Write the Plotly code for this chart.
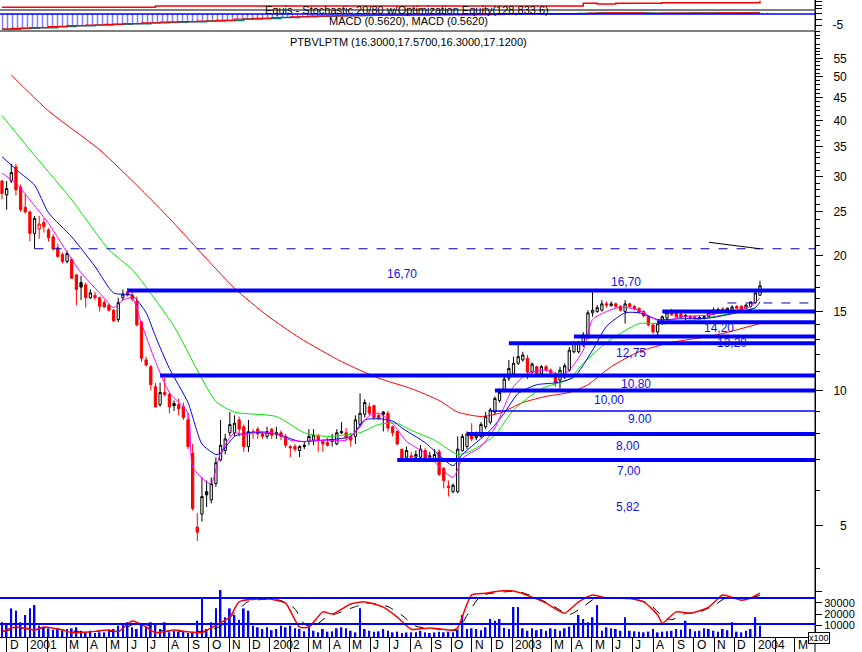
import pandas as pd
import numpy as np
import plotly.graph_objects as go

# ---------------- DATA ----------------
N_WEEKS = 164
FIRST_WEEK = "2000-11-24"

opens = [29.3, 27.3, 29.3, 31.5, 28.4, 25.6, 25.0, 22.4, 22.9, 23.7, 22.8, 22.0, 20.8, 20.1, 19.4, 19.6, 18.1, 17.4, 17.2, 16.1,
         16.3, 16.1, 15.7, 15.5, 15.1, 14.4, 16.1, 16.6, 16.3, 15.8, 14.2, 11.7, 11.3, 10.2, 9.3, 9.9, 9.8, 9.35, 9.3, 9.2,
         8.6, 7.25, 4.96, 5.3, 5.95, 5.7, 6.2, 7.0, 7.35, 8.05, 8.05, 8.6, 8.3, 7.5, 8.1, 8.2, 8.0, 7.9, 8.2, 8.05,
         8.05, 7.9, 7.5, 7.5, 7.35, 7.55, 7.7, 7.75, 7.9, 7.7, 7.65, 7.75, 7.6, 8.1, 8.05, 7.9, 7.9, 8.4, 8.85, 9.2,
         9.25, 8.8, 8.95, 8.9, 8.3, 8.1, 7.4, 7.1, 7.15, 7.1, 7.1, 7.35, 7.15, 7.05, 7.3, 6.7, 6.12, 5.95, 5.95, 7.35,
         7.5, 8.05, 7.85, 7.9, 8.3, 8.5, 8.95, 9.5, 10.0, 10.65, 10.9, 11.5, 11.7, 11.8, 11.0, 11.3, 10.9, 11.3, 11.1, 10.9,
         10.55, 10.7, 11.1, 12.2, 12.2, 12.65, 13.15, 14.9, 15.0, 15.1, 15.6, 15.45, 15.6, 15.4, 15.0, 15.6, 15.4, 15.25, 15.0, 14.6,
         14.0, 13.5, 14.1, 14.5, 14.95, 14.85, 14.8, 14.7, 14.65, 14.6, 14.45, 14.5, 14.6, 14.8, 15.0, 15.2, 15.0, 15.1, 15.4, 15.4,
         15.25, 15.4, 15.7, 16.3]
highs = [29.5, 29.3, 32.0, 32.0, 28.8, 27.5, 25.2, 24.5, 24.5, 24.2, 23.0, 22.3, 21.2, 20.3, 20.5, 19.8, 18.2, 18.0, 17.4, 16.8,
         16.6, 16.2, 15.9, 15.6, 15.2, 16.1, 16.8, 16.9, 16.8, 16.2, 14.3, 11.9, 11.4, 10.4, 10.4, 10.7, 9.9, 9.5, 9.6, 9.4,
         8.9, 7.6, 5.33, 6.4, 6.3, 6.4, 7.1, 8.6, 8.0, 8.95, 8.8, 8.75, 8.4, 8.6, 8.2, 8.3, 8.1, 8.3, 8.25, 8.3,
         8.15, 8.0, 7.55, 7.6, 7.55, 7.7, 8.2, 8.2, 8.0, 7.7, 7.85, 8.0, 8.2, 8.5, 8.25, 8.05, 8.8, 9.85, 9.55, 9.4,
         9.3, 8.9, 9.0, 9.0, 8.35, 8.15, 7.4, 7.5, 7.3, 7.35, 7.55, 7.45, 7.3, 7.4, 7.4, 6.75, 6.3, 6.2, 7.9, 8.0,
         8.1, 8.45, 8.1, 8.5, 8.95, 9.15, 9.7, 10.1, 10.8, 11.7, 11.9, 12.8, 12.2, 12.0, 11.55, 11.35, 11.4, 11.4, 11.2, 11.0,
         11.3, 11.5, 12.5, 12.9, 12.9, 13.5, 15.1, 16.6, 15.5, 15.9, 15.8, 15.8, 15.7, 15.5, 15.9, 15.7, 15.5, 15.3, 15.1, 14.7,
         14.1, 14.3, 14.7, 15.0, 15.2, 15.0, 14.9, 14.8, 14.7, 14.7, 14.7, 14.7, 15.0, 15.3, 15.3, 15.35, 15.3, 15.5, 15.5, 15.5,
         15.6, 15.8, 16.7, 17.57]
lows = [26.7, 25.3, 29.0, 27.2, 25.0, 24.8, 21.5, 20.7, 21.8, 22.5, 21.5, 20.5, 19.8, 19.2, 19.2, 17.7, 15.5, 15.9, 15.3, 16.0,
        15.9, 15.0, 15.3, 15.0, 14.2, 14.2, 15.9, 16.2, 15.8, 13.9, 11.6, 11.3, 10.0, 9.15, 9.2, 9.7, 8.9, 9.0, 8.8, 8.6,
        7.4, 5.4, 4.62, 5.1, 5.5, 5.6, 6.1, 6.95, 7.2, 7.9, 7.9, 7.9, 7.3, 7.3, 7.8, 7.8, 7.8, 7.8, 7.8, 7.8,
        7.75, 7.45, 7.1, 7.3, 7.1, 7.4, 7.55, 7.55, 7.3, 7.3, 7.5, 7.5, 7.55, 8.0, 7.75, 7.5, 7.6, 8.3, 8.7, 8.8,
        8.6, 8.6, 8.1, 8.1, 7.9, 7.55, 7.0, 7.0, 7.0, 7.05, 7.05, 7.0, 6.95, 6.95, 6.45, 6.05, 5.8, 5.9, 5.9, 7.3,
        7.4, 7.7, 7.75, 7.85, 8.2, 8.4, 8.85, 9.4, 9.9, 10.5, 10.8, 11.4, 11.6, 10.6, 10.9, 10.8, 10.8, 11.0, 10.85, 10.2,
        10.1, 10.6, 11.0, 12.1, 12.1, 12.5, 13.0, 14.6, 14.9, 15.0, 15.3, 15.4, 15.3, 15.0, 14.1, 15.3, 15.1, 14.9, 14.6, 13.9,
        13.4, 13.2, 14.0, 14.4, 14.7, 14.5, 14.5, 14.3, 14.4, 14.4, 14.4, 14.4, 14.5, 14.7, 14.9, 14.9, 14.9, 15.0, 15.2, 15.1,
        15.2, 15.3, 15.6, 16.3]
closes = [27.5, 28.2, 30.6, 28.0, 25.3, 25.0, 22.4, 24.2, 23.5, 23.2, 21.9, 20.7, 19.9, 19.4, 20.2, 17.8, 16.8, 17.0, 16.1, 16.5,
          16.1, 15.4, 15.35, 15.1, 14.3, 15.7, 16.4, 16.3, 16.0, 14.0, 11.8, 11.4, 10.3, 9.2, 9.9, 9.8, 9.2, 9.25, 9.1, 8.7,
          7.5, 5.46, 4.83, 5.8, 5.85, 6.2, 6.9, 7.55, 7.8, 8.4, 8.45, 8.2, 7.5, 8.1, 8.05, 8.0, 7.9, 8.1, 7.95, 8.0,
          7.9, 7.55, 7.45, 7.4, 7.5, 7.5, 7.9, 7.95, 7.75, 7.6, 7.55, 7.7, 8.05, 8.05, 7.85, 7.75, 8.6, 8.9, 9.4, 8.9,
          8.7, 8.65, 8.85, 8.25, 8.05, 7.6, 7.05, 7.35, 7.1, 7.2, 7.4, 7.05, 7.1, 7.2, 6.5, 6.3, 6.08, 6.15, 7.4, 7.9,
          8.0, 7.8, 7.95, 8.4, 8.75, 9.05, 9.6, 9.9, 10.6, 11.2, 11.5, 11.9, 12.0, 11.0, 11.45, 10.9, 11.3, 11.1, 10.95, 10.4,
          11.1, 11.35, 12.3, 12.75, 12.8, 13.3, 14.9, 15.1, 15.3, 15.6, 15.5, 15.6, 15.4, 15.1, 15.6, 15.4, 15.2, 14.95, 14.65, 14.0,
          13.5, 14.1, 14.6, 14.9, 14.75, 14.6, 14.55, 14.65, 14.5, 14.45, 14.55, 14.6, 14.9, 15.1, 15.15, 15.05, 15.25, 15.35, 15.25, 15.2,
          15.5, 15.75, 16.5, 17.12]
volumes = [12900, 11400, 25100, 23100, 12900, 19300, 25100, 28000, 9900, 8500, 7600, 6400, 7000, 5500, 7000, 7600, 8500, 5500, 4100, 5500,
           3500, 4100, 4100, 6400, 7000, 9900, 11400, 12900, 8500, 7000, 11400, 8500, 12900, 11400, 7000, 12900, 4100, 5500, 4700, 4500,
           3500, 4100, 14300, 33300, 7000, 12900, 25100, 42000, 17300, 25100, 19300, 15000, 25100, 23100, 9900, 8500, 7000, 8500, 6000, 7000,
           9900, 8500, 9900, 7600, 7000, 5000, 9900, 5500, 4100, 7000, 4700, 5000, 7600, 8500, 7600, 5500, 4100, 25100, 7000, 5500,
           4700, 5000, 7000, 5500, 4100, 4700, 3500, 4000, 4100, 4100, 5500, 4100, 3500, 4000, 4700, 4100, 4700, 4100, 6000, 19300,
           7000, 7600, 7000, 6000, 8500, 15800, 14300, 15800, 8000, 7000, 26300, 26300, 7600, 5500, 7600, 6000, 7000, 5500, 7600, 7000,
           5500, 7600, 9000, 11400, 19300, 15800, 12900, 17300, 28000, 5500, 8500, 7600, 7000, 5500, 17300, 5500, 5000, 4700, 4100, 4700,
           7000, 4100, 4700, 5000, 5500, 7000, 6400, 14300, 7000, 5000, 5500, 7600, 7000, 5500, 4700, 7000, 6000, 12900, 4700, 4100,
           5500, 7000, 17300, 9900]

# moving averages (week index -> value)
ma_red_idx = [2, 10, 21, 30, 36, 42, 50, 57, 64, 73, 81, 88, 94, 98, 103, 107, 112, 117, 122, 126, 131, 137, 144, 150, 155, 163]
ma_red_val = [50.5, 42.0, 34.4, 28.0, 24.2, 20.7, 16.9, 14.7, 13.1, 11.6, 10.65, 10.1, 9.5, 8.95, 8.75, 8.9, 9.4, 9.7, 9.9, 10.3,
              11.3, 12.2, 12.8, 13.1, 13.4, 14.1]
ma_green_idx = [0, 6, 15, 23, 28, 31, 37, 42, 46, 50, 59, 65, 70, 77, 81, 85, 88, 93, 98, 101, 106, 110, 116, 122, 125, 130,
                134, 137, 143, 149, 162]
ma_green_val = [41.0, 34.4, 26.6, 20.6, 18.6, 17.0, 13.9, 11.1, 9.45, 8.95, 8.75, 8.05, 7.9, 8.05, 8.4, 8.45, 8.15, 7.75, 7.2,
                7.35, 7.95, 9.05, 10.1, 10.6, 11.5, 12.8, 13.6, 14.1, 14.1, 14.35, 15.25]
ma_blue_idx = [0, 4, 7, 10, 15, 20, 24, 28, 31, 33, 36, 40, 43, 46, 47, 50, 53, 59, 64, 69, 75, 78, 81, 84, 86, 91, 97, 99,
               105, 108, 111, 115, 119, 123, 127, 130, 134, 137, 141, 146, 152, 162, 163]
ma_blue_val = [33.2, 30.5, 28.7, 24.9, 22.0, 18.9, 16.5, 16.3, 14.9, 13.2, 11.2, 9.4, 7.6, 7.2, 7.25, 7.9, 8.05, 8.0, 7.7, 7.75,
               7.9, 8.6, 8.65, 8.55, 8.25, 7.65, 6.8, 7.2, 8.15, 8.9, 9.85, 10.3, 10.4, 10.7, 12.3, 13.9, 14.9, 14.9, 14.4, 14.45,
               14.5, 15.3, 15.75]
ma_mag_idx = [0, 2, 3, 6, 10, 13, 17, 21, 24, 26, 28, 30, 33, 36, 40, 41, 44, 45, 47, 50, 52, 55, 59, 62, 65, 69, 74, 77, 79,
              81, 84, 87, 91, 97, 99, 103, 106, 108, 110, 113, 117, 120, 122, 125, 127, 130, 133, 137, 140, 142, 146, 151, 159,
              161, 163]
ma_mag_val = [30.5, 29.5, 29.0, 26.6, 23.6, 21.1, 18.3, 16.5, 15.3, 15.9, 16.1, 14.1, 11.6, 9.9, 8.9, 6.75, 6.25, 6.2, 7.25,
              8.05, 7.95, 8.1, 8.0, 7.75, 7.7, 7.75, 7.75, 8.3, 8.8, 8.9, 8.45, 7.7, 7.25, 6.4, 7.05, 7.5, 8.25, 9.2, 10.2, 10.9,
              11.1, 10.8, 11.1, 12.3, 14.4, 15.0, 15.35, 15.1, 14.5, 14.2, 14.6, 14.7, 15.15, 15.4, 16.1]

# stochastic 20/80 (%K red, %D dashed)
stoch_k_idx = [0, 3, 7, 9, 13, 15, 19, 23, 25, 28, 31, 33, 37, 40, 43, 45, 49, 51, 56, 59, 61, 64, 66, 69, 71, 75, 78, 82, 85,
               88, 92, 97, 98, 101, 104, 107, 110, 114, 117, 121, 124, 127, 130, 134, 138, 141, 142, 145, 148, 152, 155, 159,
               161, 163]
stoch_k_val = [2, 13, 6, 13, 6, 0, 2, 6, 2, 27, 13, 0, 6, 2, 0, 11, 36, 71, 78, 75, 68, 13, 13, 48, 43, 66, 71, 59, 36, 8,
               11, 6, 11, 87, 91, 96, 96, 82, 68, 45, 71, 87, 80, 80, 71, 41, 22, 48, 45, 59, 87, 75, 80, 91]
stoch_d_idx = [0, 4, 8, 10, 14, 17, 21, 25, 29, 32, 35, 40, 44, 47, 50, 53, 57, 60, 63, 65, 67, 70, 72, 76, 79, 83, 86, 89,
               93, 98, 100, 103, 108, 111, 115, 118, 122, 125, 128, 131, 135, 139, 142, 144, 147, 150, 153, 156, 160, 163]
stoch_d_val = [3, 10, 10, 12, 5, 2, 3, 4, 22, 15, 3, 3, 4, 15, 45, 72, 77, 74, 55, 20, 14, 38, 44, 60, 68, 60, 40, 15, 9, 6,
               40, 85, 94, 95, 80, 65, 42, 60, 82, 79, 78, 68, 38, 30, 44, 48, 62, 82, 78, 86]
stoch_levels = [80, 20]

# MACD strip (sampled every 4 weeks)
macd_idx = [0, 4, 8, 12, 16, 20, 24, 28, 32, 36, 40, 44, 48, 52, 56, 60, 64, 68, 72, 76, 80, 84, 88, 92, 96, 100, 104, 108,
            112, 116, 120, 124, 128, 132, 136, 140, 144, 148, 152, 156, 160, 163]
macd_val = [-6.9, -6.5, -6.2, -5.7, -5.3, -5.0, -4.7, -4.4, -4.0, -3.7, -3.5, -3.2, -2.9, -2.3, -2.0, -1.6, -1.25, -1.0, -0.85,
            -0.7, -0.6, -0.55, -0.45, -0.4, -0.35, -0.3, -0.2, -0.1, 0.1, 0.15, 0.1, 0.2, 0.4, 0.5, 0.5, 0.3, 0.35, 0.4, 0.45,
            0.5, 0.55, 0.56]

# optimization equity (step line)
equity_idx = [0, 33, 125, 128, 132, 142, 163]
equity_val = [104830, 109560, 119390, 116840, 119390, 121570, 128833.6]

# horizontal support / resistance lines
support_levels = [16.70, 15.00, 14.20, 13.20, 12.75, 10.80, 10.00, 9.00, 8.00, 7.00]
support_start = [27, 142, 141, 123, 109, 34, 106, 105, 100, 85]
dashed_levels = [20.7, 15.67]
dashed_start = [7, 156]
trend_idx = [152, 163]
trend_val = [21.4, 20.7]

level_labels = ["16,70", "16,70", "14,20", "13,20", "12,75", "10,80", "10,00", "9.00", "8,00", "7,00", "5,82"]
level_label_vals = [16.70, 16.70, 14.20, 13.20, 12.75, 10.80, 10.00, 9.00, 8.00, 7.00, 5.82]

price_ticks = [5, 10, 15, 20, 25, 30, 35, 40, 45, 50, 55]
volume_ticks = [10000, 20000, 30000, 40000]
volume_tick_text = ["10000", "20000", "30000", ""]

month_ticks = pd.date_range("2000-12-01", "2004-03-01", freq="MS")
month_label_dates = ["2000-12-01", "2001-01-01", "2001-03-01", "2001-04-01", "2001-05-01", "2001-06-01", "2001-07-01",
                     "2001-08-01", "2001-09-01", "2001-10-01", "2001-11-01", "2001-12-01", "2002-01-01", "2002-03-01",
                     "2002-04-01", "2002-05-01", "2002-06-01", "2002-07-01", "2002-08-01", "2002-09-01", "2002-10-01",
                     "2002-11-01", "2002-12-01", "2003-01-01", "2003-03-01", "2003-04-01", "2003-05-01", "2003-06-01",
                     "2003-07-01", "2003-08-01", "2003-09-01", "2003-10-01", "2003-11-01", "2003-12-01", "2004-01-01",
                     "2004-03-01"]
month_labels = ["D", "2001", "M", "A", "M", "J", "J", "A", "S", "O", "N", "D", "2002", "M", "A", "M", "J", "J", "A", "S",
                "O", "N", "D", "2003", "M", "A", "M", "J", "J", "A", "S", "O", "N", "D", "2004", "M"]

title_equity = "Equis - Stochastic 20/80 w/Optimization Equity(128,833.6)"
title_macd = "MACD (0.5620), MACD (0.5620)"
title_main = "PTBVLPTM (16.3000,17.5700,16.3000,17.1200)"

# ---------------- LAYOUT HELPERS ----------------
W, H = 862, 652
PLOT_W, PLOT_B = 815, 637
PX_PER_DAY = 0.6643


def py(ypx):
    return (PLOT_B - ypx) / PLOT_B


def pxf(xpx):
    return xpx / PLOT_W


weeks = pd.date_range(FIRST_WEEK, periods=N_WEEKS, freq="7D")
x_start = weeks[0] - pd.Timedelta(days=2 / PX_PER_DAY)
x_end = weeks[0] + pd.Timedelta(days=(PLOT_W - 2) / PX_PER_DAY)


def wk(idx):
    return [weeks[i] for i in idx]


BLUE = "#0000ff"
LABEL_BLUE = "#1010e8"
FONT = "Liberation Sans, Arial, sans-serif"
NARROW = "Liberation Sans Narrow, Arial Narrow, Liberation Sans, sans-serif"

fig = go.Figure()

# ---------------- candles ----------------
prev_close = [opens[0]] + closes[:-1]
is_red = [c < p for c, p in zip(closes, prev_close)]
for color, flag in (("#ff0000", True), ("#000000", False)):
    ids = [i for i in range(N_WEEKS) if is_red[i] == flag]
    fig.add_trace(go.Candlestick(
        x=wk(ids), open=[opens[i] for i in ids], high=[highs[i] for i in ids],
        low=[lows[i] for i in ids], close=[closes[i] for i in ids],
        increasing=dict(line=dict(color=color, width=1), fillcolor="white"),
        decreasing=dict(line=dict(color=color, width=1), fillcolor=color),
        whiskerwidth=0, xaxis="x", yaxis="y", showlegend=False, hoverinfo="skip"))

# ---------------- moving averages ----------------
for idx, val, col in ((ma_red_idx, ma_red_val, "#ff0000"), (ma_green_idx, ma_green_val, "#00e800"),
                      (ma_blue_idx, ma_blue_val, "#0000ff"), (ma_mag_idx, ma_mag_val, "#ff00ff")):
    fig.add_trace(go.Scatter(x=wk(idx), y=val, mode="lines",
                             line=dict(color=col, width=1, shape="spline", smoothing=0.6),
                             xaxis="x", yaxis="y", showlegend=False, hoverinfo="skip"))

# ---------------- support lines ----------------
for lvl, st in zip(support_levels, support_start):
    fig.add_trace(go.Scatter(x=[weeks[st], x_end], y=[lvl, lvl], mode="lines",
                             line=dict(color=BLUE, width=1.5 if lvl == 9.0 else 4),
                             xaxis="x", yaxis="y", showlegend=False, hoverinfo="skip"))
for lvl, st in zip(dashed_levels, dashed_start):
    fig.add_trace(go.Scatter(x=[weeks[st], x_end], y=[lvl, lvl], mode="lines",
                             line=dict(color="#0000b0", width=1, dash="dash"),
                             xaxis="x", yaxis="y", showlegend=False, hoverinfo="skip"))
fig.add_trace(go.Scatter(x=wk(trend_idx), y=trend_val, mode="lines", line=dict(color="#000000", width=1),
                         xaxis="x", yaxis="y", showlegend=False, hoverinfo="skip"))

# ---------------- volume + stochastic ----------------
fig.add_trace(go.Bar(x=weeks, y=volumes, width=2.6 * 86400000, marker=dict(color=BLUE, line=dict(width=0)),
                     xaxis="x", yaxis="y2", showlegend=False, hoverinfo="skip"))
fig.add_trace(go.Scatter(x=wk(stoch_d_idx), y=stoch_d_val, mode="lines",
                         line=dict(color="#000000", width=1, dash="dash", shape="spline", smoothing=0.6),
                         xaxis="x", yaxis="y3", showlegend=False, hoverinfo="skip"))
fig.add_trace(go.Scatter(x=wk(stoch_k_idx), y=stoch_k_val, mode="lines",
                         line=dict(color="#ff0000", width=1.5, shape="spline", smoothing=0.6),
                         xaxis="x", yaxis="y3", showlegend=False, hoverinfo="skip"))

# ---------------- MACD strip ----------------
fig.add_trace(go.Bar(x=wk(macd_idx), y=macd_val, width=4 * 7 * 86400000,
                     marker=dict(color="rgba(0,0,0,0)", line=dict(width=0),
                                 pattern=dict(shape="|", fgcolor=BLUE, bgcolor="rgba(0,0,0,0)", size=5, solidity=0.3)),
                     xaxis="x", yaxis="y4", showlegend=False, hoverinfo="skip"))
fig.add_trace(go.Scatter(x=wk(macd_idx), y=macd_val, mode="lines", line=dict(color="#008080", width=1.5, shape="hv"),
                         xaxis="x", yaxis="y4", showlegend=False, hoverinfo="skip"))
fig.add_trace(go.Scatter(x=wk(macd_idx), y=macd_val, mode="lines", line=dict(color="#ff0000", width=1.2, shape="hvh"),
                         xaxis="x", yaxis="y4", showlegend=False, hoverinfo="skip"))

# ---------------- equity strip ----------------
fig.add_trace(go.Scatter(x=wk(equity_idx), y=equity_val, mode="lines", line=dict(color="#ff0000", width=1.5, shape="hv"),
                         xaxis="x", yaxis="y5", showlegend=False, hoverinfo="skip"))

# ---------------- axes ----------------
fs = "\u2007"
price_text = [(fs + str(v)) if v < 10 else str(v) for v in price_ticks]
minor_vals = [v for v in range(4, 64) if v % 5 != 0]

axis_common = dict(side="right", anchor="x", showline=True, linecolor="black", linewidth=1,
                   ticks="outside", tickcolor="black", showgrid=False, zeroline=False,
                   tickfont=dict(family=FONT, size=12, color="black"))

fig.update_layout(
    width=W, height=H,
    margin=dict(l=0, r=W - PLOT_W, t=0, b=H - PLOT_B, autoexpand=False),
    paper_bgcolor="white", plot_bgcolor="white",
    showlegend=False, hovermode=False,
    xaxis=dict(type="date", range=[x_start, x_end], anchor="y2", showgrid=False, zeroline=False,
               showline=True, linecolor="black", linewidth=1,
               tickmode="array", tickvals=list(month_ticks), ticktext=[""] * len(month_ticks),
               ticks="outside", ticklen=14, tickcolor="black", rangeslider=dict(visible=False)),
    yaxis=dict(domain=[py(590), py(31)], type="log", range=[np.log10(3.591), np.log10(63.3)],
               tickmode="array", tickvals=price_ticks, ticktext=price_text, ticklen=7, ticklabelstandoff=8,
               minor=dict(tickmode="array", tickvals=minor_vals, ticks="outside", ticklen=4, tickcolor="black"),
               **axis_common),
    yaxis2=dict(domain=[0, py(590)], range=[0, 41200], tickmode="array", tickvals=volume_ticks,
                ticktext=volume_tick_text, ticklen=6, **{**axis_common, "tickfont": dict(family=FONT, size=11, color="black")}),
    yaxis3=dict(overlaying="y2", range=[-10, 98.4], visible=False, anchor="x"),
    yaxis4=dict(domain=[py(30), py(11)], range=[-7.27, 1.36], tickmode="array", tickvals=[0, -2.5, -5],
                ticktext=["", "", "-5"], ticklen=6, ticklabelstandoff=8, **axis_common),
    yaxis5=dict(domain=[py(10), 1.0], range=[95000, 131400], tickmode="array", tickvals=[101200, 113200, 125200],
                ticktext=["", "", ""], ticklen=6, **axis_common),
)

shapes = []
for ypx in (10, 31):
    shapes.append(dict(type="line", xref="paper", yref="paper", x0=0, x1=1, y0=py(ypx), y1=py(ypx),
                       line=dict(color="black", width=1)))
shapes.append(dict(type="line", xref="paper", yref="paper", x0=1, x1=1, y0=py(H), y1=1, line=dict(color="black", width=1)))
shapes.append(dict(type="line", xref="paper", yref="y4", x0=0, x1=1, y0=0, y1=0, line=dict(color=BLUE, width=1.5)))
for lv in stoch_levels:
    shapes.append(dict(type="line", xref="paper", yref="y3", x0=0, x1=1, y0=lv, y1=lv, line=dict(color=BLUE, width=2)))
fig.update_layout(shapes=shapes)

ann = []
# month labels
for d, t in zip(month_label_dates, month_labels):
    ann.append(dict(x=d, xref="x", y=py(645), yref="paper", text=t, showarrow=False, xanchor="left", yanchor="middle",
                    xshift=1, font=dict(family=FONT, size=12, color="black")))
# titles
ann.append(dict(x=pxf(407), y=py(10), xref="paper", yref="paper", text=title_equity, showarrow=False,
                font=dict(family=NARROW, size=11, color="black"), yanchor="middle"))
ann.append(dict(x=pxf(408), y=py(20.5), xref="paper", yref="paper", text=title_macd, showarrow=False,
                font=dict(family=NARROW, size=11, color="black"), yanchor="middle"))
ann.append(dict(x=pxf(408), y=py(41.5), xref="paper", yref="paper", text=title_main, showarrow=False,
                font=dict(family=FONT, size=11, color="black"), yanchor="middle"))
# level labels (x centre px, vertical shift px)
label_layout = [(402, 17), (626, 8.5), (719, -6), (732, -6.5), (631, -9.5), (636, -8.5), (609, -10), (640, -7.5),
                (628, -12), (629, -11), (628, -11)]
for (t, v), (xc, ys) in zip(zip(level_labels, level_label_vals), label_layout):
    ann.append(dict(x=pxf(xc), xref="paper", y=np.log10(v), yref="y", yshift=ys, text=t, showarrow=False,
                    xanchor="center", yanchor="middle", font=dict(family=FONT, size=12, color=LABEL_BLUE)))
# x100 box
ann.append(dict(x=pxf(830), y=py(638), xref="paper", yref="paper", text="x100", showarrow=False,
                font=dict(family=FONT, size=9, color="black"), bordercolor="black", borderwidth=1, borderpad=0,
                bgcolor="white", yanchor="middle"))
fig.update_layout(annotations=ann)

fig.write_html("out.html", config={"displayModeBar": False},
               post_script="document.body.style.margin='0px';document.body.style.padding='0px';")
